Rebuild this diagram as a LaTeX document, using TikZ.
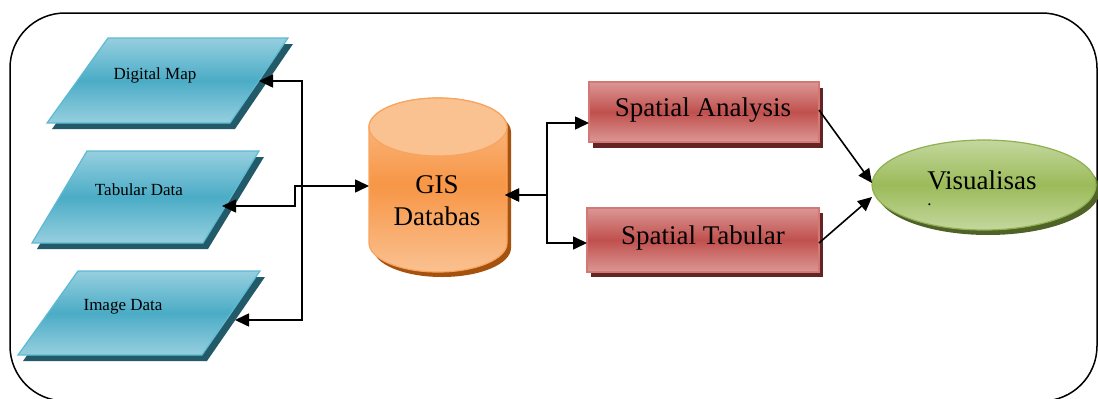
\documentclass[tikz,border=0pt]{standalone}
\usepackage{fontspec}
\setmainfont{Liberation Serif}
\usetikzlibrary{arrows.meta}
\definecolor{tealM}{HTML}{4BACC6}
\definecolor{tealL}{HTML}{96CFDF}
\definecolor{tealB}{HTML}{5DBAD3}
\definecolor{tealS}{HTML}{235A69}
\definecolor{oraM}{HTML}{F79646}
\definecolor{oraL}{HTML}{FAC191}
\definecolor{oraB}{HTML}{F8A45E}
\definecolor{oraS}{HTML}{A5520F}
\definecolor{redM}{HTML}{C0504D}
\definecolor{redL}{HTML}{DB9795}
\definecolor{redB}{HTML}{D47876}
\definecolor{redS}{HTML}{632423}
\definecolor{grnM}{HTML}{9BBB59}
\definecolor{grnL}{HTML}{C4D79E}
\definecolor{grnB}{HTML}{8FB04E}
\definecolor{grnS}{HTML}{4F6228}
\begin{document}
\begin{tikzpicture}[x=1pt,y=-1pt,
  conn/.style={line width=1.6pt,draw=black},
  atip/.tip={Triangle[length=14pt,width=13pt]},
  small/.style={font=\fontsize{17}{20}\selectfont,inner sep=0pt},
  big/.style={font=\fontsize{27}{32}\selectfont,inner sep=0pt,align=center},
  tealshade/.style={top color=tealL,bottom color=tealL,middle color=tealM},
  orashade/.style={top color=oraL,bottom color=oraL,middle color=oraM},
  redshade/.style={top color=redL,bottom color=redL,middle color=redM},
  grnshade/.style={top color=grnL,bottom color=grnL,middle color=grnM}]
\useasboundingbox (0,0) rectangle (1098,399);
% frame
\draw[line width=1.5pt,rounded corners=55pt] (10,13) rectangle (1097,401);

% Digital Map
\fill[tealS] (113,44)--(293,44)--(235,129)--(52,129)--cycle;
\shade[tealshade] (108,38)--(288,38)--(230,123)--(47,123)--cycle;
\draw[tealB,line width=1.2pt] (108,38)--(288,38)--(230,123)--(47,123)--cycle;
\node[small] (dm) at (155,75) {Digital Map};
% Tabular Data
\fill[tealS] (92,157)--(264,157)--(208,249)--(37,249)--cycle;
\shade[tealshade] (87,151)--(259,151)--(203,243)--(32,243)--cycle;
\draw[tealB,line width=1.2pt] (87,151)--(259,151)--(203,243)--(32,243)--cycle;
\node[small] (td) at (139,190) {Tabular Data};
% Image Data
\fill[tealS] (83,277)--(265,277)--(207,361)--(23,361)--cycle;
\shade[tealshade] (78,271)--(260,271)--(202,355)--(18,355)--cycle;
\draw[tealB,line width=1.2pt] (78,271)--(260,271)--(202,355)--(18,355)--cycle;
\node[small] (id) at (123,307) {Image Data};

% GIS cylinder
\fill[oraS] (373,132) -- (373,248) arc[start angle=180,end angle=0,x radius=69,y radius=29]
  -- (511,132) arc[start angle=0,end angle=-180,x radius=69,y radius=29] -- cycle;
\shade[orashade] (369,127) -- (369,243) arc[start angle=180,end angle=0,x radius=69,y radius=29]
  -- (507,127) arc[start angle=0,end angle=-180,x radius=69,y radius=29] -- cycle;
\draw[oraB,line width=1.2pt] (369,127) -- (369,243) arc[start angle=180,end angle=0,x radius=69,y radius=29]
  -- (507,127) arc[start angle=0,end angle=-180,x radius=69,y radius=29] -- cycle;
\filldraw[fill=oraL,draw=oraB,line width=1.2pt] (438,127) ellipse[x radius=69,y radius=29];
\node[big] (gis) at (437,201) {GIS\\Databas};

% Spatial Analysis
\fill[redS] (593,88) rectangle (823,148);
\shade[redshade] (589,82) rectangle (819,142);
\draw[redB,line width=1.2pt] (589,82) rectangle (819,142);
\node[big] (sa) at (703,110) {Spatial Analysis};
% Spatial Tabular
\fill[redS] (591,213) rectangle (823,277);
\shade[redshade] (587,208) rectangle (819,272);
\draw[redB,line width=1.2pt] (587,208) rectangle (819,272);
\node[big] (st) at (703,238) {Spatial Tabular};

% Visualisas ellipse
\fill[grnS] (988,190) ellipse[x radius=112,y radius=45];
\shade[grnshade] (984,185) ellipse[x radius=112,y radius=45];
\draw[grnB,line width=1.2pt] (984,185) ellipse[x radius=112,y radius=45];
\node[big,align=left] (vis) at (982,188) {Visualisas\\[-16pt]{\fontsize{17}{20}\selectfont .}};

% connection points
\coordinate (dmE) at (259,81);
\coordinate (tdE) at (222,206);
\coordinate (idE) at (235,320);
\coordinate (busL) at (302,200);
\coordinate (tdB) at (295,206);
\coordinate (gisW) at (369,186);
\coordinate (gisE) at (505,195);
\coordinate (busR) at (547,195);
\coordinate (saW) at (589,123);
\coordinate (stW) at (587,243);
\coordinate (saE) at (819,110);
\coordinate (stE) at (819,243);
\coordinate (visW1) at (872,183);
\coordinate (visW2) at (872,197);

% connectors
\draw[conn,atip-atip] (dmE) -| (busL) |- (idE);
\draw[conn,atip-atip] (tdE) -- (tdB) |- (gisW);
\draw[conn,atip-atip] (gisE) -- (busR) |- (saW);
\draw[conn,atip-atip] (gisE) -- (busR) |- (stW);
\draw[conn,-atip] (saE) -- (visW1);
\draw[conn,-atip] (stE) -- (visW2);
\end{tikzpicture}
\end{document}
